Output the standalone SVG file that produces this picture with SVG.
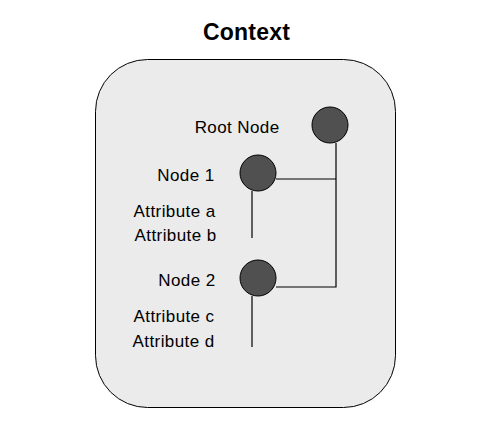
<svg xmlns="http://www.w3.org/2000/svg" width="480" height="425" viewBox="0 0 480 425">
<style>
text{font-family:"Liberation Sans",Arial,sans-serif;font-size:17px;letter-spacing:0.4px;fill:#000}
.lbl{text-anchor:end}
.title{font-size:23px;letter-spacing:0.2px;font-weight:bold;text-anchor:middle}
.node{fill:#505050;stroke:#000;stroke-width:1}
.conn{stroke:#000;stroke-width:1.2;fill:none}
</style>
<rect width="480" height="425" fill="#fff"/>
<g id="context">
<rect x="95.5" y="59.5" width="300" height="348" rx="52" ry="52" fill="#ebebeb" stroke="#000" stroke-width="1"/>
<text class="title" x="246.5" y="39.5">Context</text>
</g>
<g id="connectors">
<path class="conn" d="M336 143V287H276M276 179H336M252 191V238M252 296V347"/>
</g>
<g id="root-node">
<circle class="node" cx="330" cy="125" r="18"/>
<text class="lbl" x="279.5" y="133">Root Node</text>
</g>
<g id="node-1">
<circle class="node" cx="258" cy="173" r="18"/>
<text class="lbl" x="214.5" y="181">Node 1</text>
<text class="lbl" x="215.5" y="217">Attribute a</text>
<text class="lbl" x="216.5" y="241">Attribute b</text>
</g>
<g id="node-2">
<circle class="node" cx="258" cy="278" r="18"/>
<text class="lbl" x="215.5" y="286">Node 2</text>
<text class="lbl" x="214.5" y="322">Attribute c</text>
<text class="lbl" x="214.5" y="347">Attribute d</text>
</g>
</svg>
